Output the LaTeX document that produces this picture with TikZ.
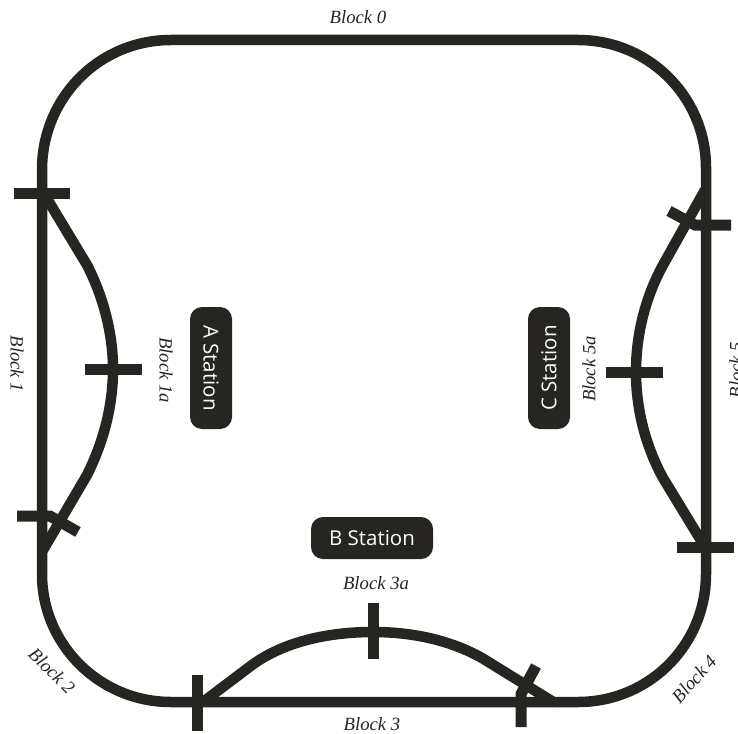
\documentclass[tikz,border=0pt]{standalone}
\usepackage{fontspec}
\setmainfont{Liberation Serif}
\newfontfamily\stationfont{Open Sans}
\definecolor{track}{HTML}{272522}
\tikzset{
  trackline/.style={draw=track,line width=10.5pt},
  tickline/.style={draw=track,line width=11pt,line join=miter},
  station/.style={fill=track,rounded corners=12pt,text=white,font=\stationfont\fontsize{20.5}{20.5}\selectfont,minimum width=122pt,minimum height=42pt,inner sep=0pt},
  blocklabel/.style={text=track,font=\itshape\fontsize{18.7}{18.7}\selectfont,inner sep=0pt}
}
\begin{document}
\begin{tikzpicture}[x=1pt,y=-1pt]
\useasboundingbox (0,0) rectangle (738,733);
\clip (0,0) rectangle (738,733);
\fill[white] (0,0) rectangle (738,733);
% main loop
\coordinate (tl1) at (42,170);
\coordinate (tl2) at (171,40);
\coordinate (tr1) at (578,40);
\coordinate (tr2) at (706,168);
\coordinate (br1) at (706,574);
\coordinate (br2) at (578,702);
\coordinate (bl1) at (171,702);
\coordinate (bl2) at (42,574);
\draw[trackline] (tl1) .. controls (42,98) and (99,40) .. (tl2) -- (tr1)
  .. controls (649,40) and (706,97) .. (tr2) -- (br1)
  .. controls (706,645) and (649,702) .. (br2) -- (bl1)
  .. controls (100,702) and (42,645) .. (bl2) -- cycle;
% sidings
\coordinate (a1) at (43,192);
\coordinate (a2) at (43,550);
\draw[trackline] (a1) -- (87,265) .. controls (104,298) and (113,335) .. (113,369)
  .. controls (113,405) and (104,441) .. (87,475) -- (a2);
\coordinate (c1) at (705,190);
\coordinate (c2) at (705,547);
\draw[trackline] (c1) -- (663,265) .. controls (645,298) and (636,335) .. (636,372)
  .. controls (636,408) and (645,445) .. (663,478) -- (c2);
\coordinate (b1) at (203,702);
\coordinate (b2) at (555,703);
\draw[trackline] (b1) -- (252,665) .. controls (285,641) and (330,632) .. (373,632)
  .. controls (412,632) and (450,640) .. (482,658) -- (b2);
% ticks
\draw[tickline] (14,193) -- (70,193);
\draw[tickline] (85,369) -- (142,369);
\draw[tickline] (17,516) -- (50,516) -- (78,532);
\draw[tickline] (606,372) -- (663,372);
\draw[tickline] (669,211) -- (695,225) -- (731,225);
\draw[tickline] (677,547) -- (734,547);
\draw[tickline] (197,675) -- (197,731);
\draw[tickline] (373,603) -- (373,659);
\draw[tickline] (536,666) -- (521,694) -- (521,727);
% stations
\node[station,rotate=-90] (sa) at (211,368) {A Station};
\node[station,rotate=90] (sc) at (549,368) {C Station};
\node[station] (sb) at (372,538) {B Station};
% labels
\node[blocklabel] (l0) at (358,17) {Block 0};
\node[blocklabel,rotate=-90] (l1) at (17,364) {Block 1};
\node[blocklabel,rotate=-90] (l1a) at (166,370) {Block 1a};
\node[blocklabel,rotate=-45] (l2) at (52,671) {Block 2};
\node[blocklabel] (l3) at (372,724) {Block 3};
\node[blocklabel] (l3a) at (376,583) {Block 3a};
\node[blocklabel,rotate=48] (l4) at (694,679) {Block 4};
\node[blocklabel,rotate=90] (l5a) at (589,369) {Block 5a};
\node[blocklabel,rotate=90] (l5) at (736,370) {Block 5};
\end{tikzpicture}
\end{document}
